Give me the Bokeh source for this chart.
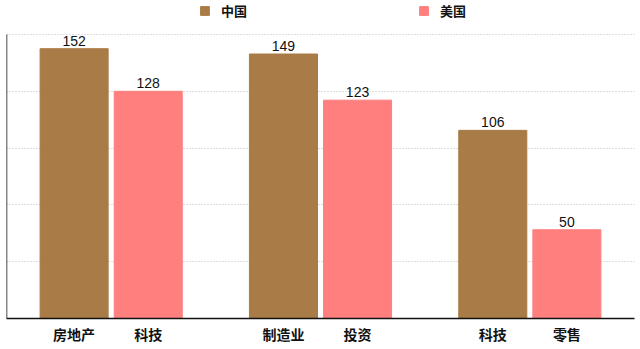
from bokeh.plotting import figure
from bokeh.models import Range1d, FixedTicker, Legend, LegendItem, ColumnDataSource
from bokeh.core.properties import value
from bokeh.embed import file_html
from bokeh.resources import INLINE

# Data
china_labels = ["房地产", "制造业", "科技"]
china_values = [152, 149, 106]
us_labels = ["科技", "投资", "零售"]
us_values = [128, 123, 50]
series_names = ["中国", "美国"]
y_ticks = [32, 64, 96, 128, 160]

CHINA_COLOR = "#A97B46"
US_COLOR = "#FF7F7F"
CJK = "Noto Sans CJK SC"
NUM = "Liberation Sans"

offset = 0.177
bar_w = 0.325
n = len(china_values)
xs_china = [i + 0.5 - offset for i in range(n)]
xs_us = [i + 0.5 + offset for i in range(n)]

p = figure(width=640, height=349, output_backend="svg", toolbar_location=None,
           x_range=Range1d(0, n), y_range=Range1d(0, 179.15),
           min_border_left=6, min_border_right=6, min_border_top=0, min_border_bottom=31)
p.outline_line_color = None
p.background_fill_color = "white"
p.border_fill_color = "white"

src_c = ColumnDataSource(dict(x=xs_china, top=china_values, lab=[str(v) for v in china_values]))
src_u = ColumnDataSource(dict(x=xs_us, top=us_values, lab=[str(v) for v in us_values]))

r_c = p.vbar(x="x", top="top", width=bar_w, bottom=0, color=CHINA_COLOR, source=src_c)
r_u = p.vbar(x="x", top="top", width=bar_w, bottom=0, color=US_COLOR, source=src_u)

for s in (src_c, src_u):
    p.text(x="x", y="top", text="lab", source=s, text_align="center", text_baseline="bottom",
           y_offset=-3, text_font=value(NUM), text_font_size="14px", text_color="#111111")

# left spine
p.segment(x0=[0], y0=[0], x1=[0], y1=[y_ticks[-1]], line_color="#111111", line_width=1.5)

# axes
p.yaxis.visible = False
p.ygrid.ticker = FixedTicker(ticks=y_ticks)
p.ygrid.grid_line_color = "#bdbdbd"
p.ygrid.grid_line_dash = "1 2"
p.ygrid.grid_line_width = 1
p.xgrid.grid_line_color = None

xa = p.xaxis[0]
all_x = xs_china + xs_us
all_lab = china_labels + us_labels
xa.ticker = FixedTicker(ticks=all_x)
xa.major_label_overrides = {x: l for x, l in zip(all_x, all_lab)}
xa.major_tick_line_color = None
xa.minor_tick_line_color = None
xa.major_tick_out = 0
xa.major_tick_in = 0
xa.axis_line_color = "#111111"
xa.axis_line_width = 1.5
xa.major_label_text_font = CJK
xa.major_label_text_font_size = "14px"
xa.major_label_text_font_style = "bold"
xa.major_label_text_color = "#111111"
xa.major_label_standoff = 5

legend = Legend(items=[LegendItem(label=series_names[0], renderers=[r_c]),
                       LegendItem(label=series_names[1], renderers=[r_u])],
                orientation="horizontal", location=(193, 298),
                glyph_width=11, glyph_height=11, label_standoff=11, spacing=171,
                label_text_font=CJK, label_text_font_size="13px", label_text_font_style="bold",
                label_text_color="#111111", label_height=13,
                border_line_color=None, background_fill_alpha=0, padding=0, margin=0)
p.add_layout(legend)

open("out.html", "w").write(file_html(p, INLINE))
